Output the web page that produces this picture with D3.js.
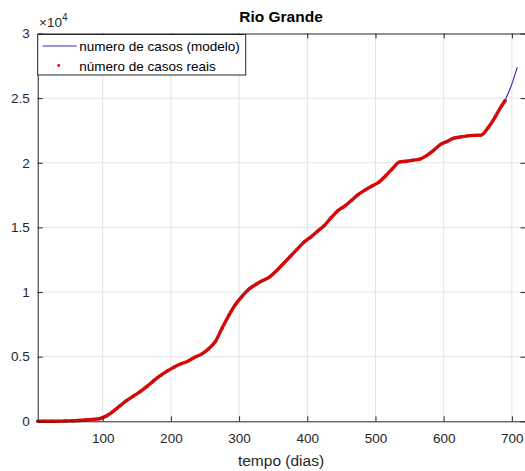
<!DOCTYPE html>
<html>
<head>
<meta charset="utf-8">
<script src="https://cdn.jsdelivr.net/npm/d3@7"></script>
<style>
  body { margin: 0; background: #fff; }
  svg { display: block; font-family: "Liberation Sans", Arial, sans-serif; }
</style>
</head>
<body>
<svg id="chart" width="525" height="471"></svg>
<script>
// days and reported cases (x 10^4)
var days = [5, 15, 25, 35, 45, 55, 65, 75, 85, 95, 105, 115, 125, 135, 145, 155, 165, 175, 185, 195,
  205, 215, 225, 235, 245, 255, 265, 275, 285, 295, 305, 315, 325, 335, 345, 355, 365, 375, 385, 395,
  405, 415, 425, 435, 445, 455, 465, 475, 485, 495, 505, 515, 525, 535, 545, 555, 565, 575, 585, 595,
  605, 615, 625, 635, 645, 655, 665, 675, 685, 690];
var realCases = [0, 0, 0, 0.001, 0.002, 0.004, 0.006, 0.010, 0.015, 0.020, 0.040, 0.075, 0.118, 0.160, 0.195, 0.230, 0.270, 0.315, 0.355, 0.390,
  0.420, 0.445, 0.465, 0.495, 0.520, 0.560, 0.615, 0.720, 0.820, 0.905, 0.970, 1.025, 1.060, 1.090, 1.118, 1.165, 1.220, 1.275, 1.330, 1.385,
  1.425, 1.470, 1.515, 1.575, 1.630, 1.665, 1.710, 1.755, 1.790, 1.820, 1.850, 1.900, 1.955, 2.005, 2.012, 2.020, 2.028, 2.055, 2.095, 2.140,
  2.165, 2.190, 2.200, 2.208, 2.212, 2.214, 2.270, 2.350, 2.440, 2.480];

// model curve: follows the data, only its tail shows above the red dots
var modelDays = [5, 15, 25, 35, 45, 55, 65, 75, 85, 95, 105, 115, 125, 135, 145, 155, 165, 175, 185, 195,
  205, 215, 225, 235, 245, 255, 265, 275, 285, 295, 305, 315, 325, 335, 345, 355, 365, 375, 385, 395,
  405, 415, 425, 435, 445, 455, 465, 475, 485, 495, 505, 515, 525, 535, 545, 555, 565, 575, 585, 595,
  605, 615, 625, 635, 645, 655, 665, 675, 685, 690, 698, 708];
var modelCases = [0, 0, 0, 0.001, 0.002, 0.004, 0.006, 0.010, 0.015, 0.020, 0.040, 0.075, 0.118, 0.160, 0.195, 0.230, 0.270, 0.315, 0.355, 0.390,
  0.420, 0.445, 0.465, 0.495, 0.520, 0.560, 0.615, 0.720, 0.820, 0.905, 0.970, 1.025, 1.060, 1.090, 1.118, 1.165, 1.220, 1.275, 1.330, 1.385,
  1.425, 1.470, 1.515, 1.575, 1.630, 1.665, 1.710, 1.755, 1.790, 1.820, 1.850, 1.900, 1.955, 2.005, 2.012, 2.020, 2.028, 2.055, 2.095, 2.140,
  2.165, 2.190, 2.200, 2.208, 2.212, 2.214, 2.270, 2.350, 2.440, 2.485, 2.580, 2.740];

var xTicks = [100, 200, 300, 400, 500, 600, 700];
var yTicks = [0, 0.5, 1, 1.5, 2, 2.5, 3];

var margin = { top: 33.5, right: -0.5, bottom: 49.7, left: 37.7 };
var w = 525 - margin.left - margin.right,
  h = 471 - margin.top - margin.bottom;

var svg = d3.select("#chart");
var g = svg.append("g")
  .attr("transform", "translate(" + margin.left + "," + margin.top + ")");

var xScale = d3.scaleLinear().domain([4.7, 720]).range([0, w]);
var yScale = d3.scaleLinear().domain([0, 3]).range([h, 0]);

// grid
g.selectAll(".gx").data(xTicks).enter().append("line")
  .attr("x1", d => xScale(d)).attr("x2", d => xScale(d))
  .attr("y1", 0).attr("y2", h)
  .attr("stroke", "#e3e3e3").attr("stroke-width", 1);
g.selectAll(".gy").data(yTicks.slice(1, -1)).enter().append("line")
  .attr("x1", 0).attr("x2", w)
  .attr("y1", d => yScale(d)).attr("y2", d => yScale(d))
  .attr("stroke", "#e3e3e3").attr("stroke-width", 1);

// model line
var line = d3.line().x((d, i) => xScale(modelDays[i])).y(d => yScale(d)).curve(d3.curveMonotoneX);
g.append("path").datum(modelCases)
  .attr("d", line)
  .attr("fill", "none").attr("stroke", "#2e2eb8").attr("stroke-width", 1.1);

// real cases: dense dots, they merge into a thick red band
var realLine = d3.line().x((d, i) => xScale(days[i])).y(d => yScale(d)).curve(d3.curveMonotoneX);
g.append("path").datum(realCases)
  .attr("d", realLine)
  .attr("fill", "none").attr("stroke", "#d20a0a").attr("stroke-width", 3.4)
  .attr("stroke-linecap", "round");
g.selectAll(".dot").data(realCases).enter().append("circle")
  .attr("cx", (d, i) => xScale(days[i])).attr("cy", d => yScale(d))
  .attr("r", 1.7).attr("fill", "#d20a0a");

// axes (box with inward ticks on all sides)
var axisColor = "#262626";
g.append("g").attr("transform", "translate(0," + h + ")")
  .call(d3.axisBottom(xScale).tickValues(xTicks).tickSizeInner(-5).tickSizeOuter(0).tickPadding(12));
g.append("g")
  .call(d3.axisLeft(yScale).tickValues(yTicks).tickSizeInner(-5).tickSizeOuter(0).tickPadding(8)
    .tickFormat(d => d3.format("")(d)));
g.append("g")
  .call(d3.axisTop(xScale).tickValues(xTicks).tickSizeInner(-5).tickSizeOuter(0).tickFormat(""));
g.append("g").attr("transform", "translate(" + w + ",0)")
  .call(d3.axisRight(yScale).tickValues(yTicks).tickSizeInner(-5).tickSizeOuter(0).tickFormat(""));

svg.selectAll(".domain").attr("stroke", axisColor);
svg.selectAll(".tick line").attr("stroke", axisColor);
svg.selectAll(".tick text").attr("fill", axisColor).style("font-size", "13.5px")
  .style("font-family", "'Liberation Sans', Arial, sans-serif");

// exponent
var expo = svg.append("text").attr("x", 39).attr("y", 27)
  .attr("fill", axisColor).style("font-size", "13.5px");
expo.append("tspan").text("\u00d710");
expo.append("tspan").attr("dy", -6).style("font-size", "10px").text("4");

// title
svg.append("text").attr("x", 281).attr("y", 22)
  .attr("text-anchor", "middle").attr("fill", "#000")
  .style("font-size", "15.5px").style("font-weight", "bold")
  .text("Rio Grande");

// x label
svg.append("text").attr("x", 281).attr("y", 466)
  .attr("text-anchor", "middle").attr("fill", axisColor)
  .style("font-size", "15.5px")
  .text("tempo (dias)");

// legend
var leg = svg.append("g").attr("transform", "translate(37.7,34.5)");
leg.append("rect").attr("width", 208).attr("height", 40.5)
  .attr("fill", "#fff").attr("stroke", axisColor).attr("stroke-width", 1);
leg.append("line").attr("x1", 5).attr("x2", 39).attr("y1", 11.5).attr("y2", 11.5)
  .attr("stroke", "#2e2eb8").attr("stroke-width", 1.1);
leg.append("text").attr("x", 41.5).attr("y", 16.5).attr("fill", "#000")
  .style("font-size", "13.5px").text("numero de casos (modelo)");
leg.append("circle").attr("cx", 21).attr("cy", 31).attr("r", 1.4).attr("fill", "#d20a0a");
leg.append("text").attr("x", 41.5).attr("y", 36).attr("fill", "#000")
  .style("font-size", "13.5px").text("número de casos reais");
</script>
</body>
</html>
